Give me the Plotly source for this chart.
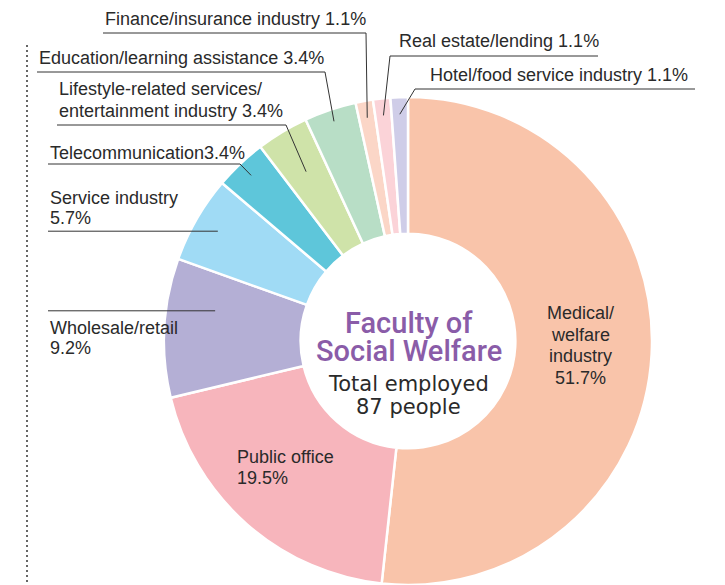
import math
import plotly.graph_objects as go

# ---------------- data ----------------
categories = [
    "Medical/welfare industry", "Public office", "Wholesale/retail",
    "Service industry", "Telecommunication",
    "Lifestyle-related services/entertainment industry",
    "Education/learning assistance", "Finance/insurance industry",
    "Real estate/lending", "Hotel/food service industry",
]
counts = [45, 17, 8, 5, 3, 3, 3, 1, 1, 1]
display_names = [
    "Medical/<br>welfare<br>industry<br>", "Public office<br>",
    "Wholesale/retail<br>", "Service industry<br>", "Telecommunication",
    "Lifestyle-related services/<br>entertainment industry ",
    "Education/learning assistance ", "Finance/insurance industry ",
    "Real estate/lending ", "Hotel/food service industry ",
]
colors = ["#F9C4AA", "#F7B5BC", "#B4AFD5", "#A0DBF5", "#5EC6DA",
          "#CFE3A9", "#B8DEC6", "#FBD6C7", "#FBD3D8", "#CFCDE8"]
center_title = ["Faculty of", "Social Welfare"]
total = sum(counts)
pcts = [f"{c / total * 100:.1f}%" for c in counts]

# ---------------- layout constants ----------------
OFF = 8                       # page body margin offset in the browser
W, H = 725 - OFF, 585 - OFF   # figure size
CX, CY, R = 408, 341, 244     # target pie centre / radius in window pixels
HOLE = 0.44
TXT = "#2a2a2a"
FONT = "Liberation Sans, Arial, sans-serif"
LSIZE = 18
LH = 21.5

def px(x):
    return (x - OFF) / W

def py(y):
    return 1 - (y - OFF) / H

fig = go.Figure(go.Pie(
    values=counts, labels=categories, sort=False, direction="clockwise",
    rotation=0, hole=HOLE, textinfo="none", hoverinfo="label+percent",
    marker=dict(colors=colors, line=dict(color="white", width=2.5)),
    domain=dict(x=[px(CX - R), px(CX + R)], y=[max(0, py(CY + R)), py(CY - R)]),
))

cum = [sum(counts[:i]) for i in range(len(counts))]

def anchor(i, rfrac, within=0.5):
    f = (cum[i] + counts[i] * within) / total
    th = 2 * math.pi * f
    return CX + rfrac * R * math.sin(th), CY - rfrac * R * math.cos(th)

shapes = []
annotations = []

def line(x0, y0, x1, y1, color="#333333", width=1):
    shapes.append(dict(type="line", xref="paper", yref="paper",
                       x0=px(x0), y0=py(y0), x1=px(x1), y1=py(y1),
                       line=dict(color=color, width=width)))

def text(t, x, y, size=LSIZE, color=TXT, xanchor="left", lh=LH, family=FONT, weight=None):
    """Multi-line text; y is the centre of the first line."""
    for k, part in enumerate(t.split("<br>")):
        f = dict(size=size, color=color, family=family)
        if weight:
            f["weight"] = weight
        annotations.append(dict(text=part, x=px(x), y=py(y + k * lh), xref="paper", yref="paper",
                                xanchor=xanchor, yanchor="middle", showarrow=False, font=f))

# outside labels: (index, text x, first-line y, underline y, underline x0, x1, leader from left?, rfrac, within)
label_specs = [
    (7, 103, 19, 33, 103, 366, False, 0.93, 0.5),
    (8, 397, 41, 56, 390, 598, True, 0.93, 0.5),
    (9, 428, 75, 89, 415, 695, True, 0.93, 0.5),
    (6, 37, 58, 72, 37, 325, False, 0.95, 0.5),
    (5, 57, 89, 125, 57, 286, False, 0.81, 0.5),
    (4, 48, 153, 164, 48, 240, False, 0.935, 0.5),
]
for i, tx, ty, uy, ux0, ux1, from_left, rf, w in label_specs:
    text(display_names[i] + pcts[i], tx, ty)
    line(ux0, uy, ux1, uy)
    ax, ay = anchor(i, rf, w)
    sx = ux0 if from_left else ux1
    line(sx, uy, ax, ay)

# horizontal leader labels ending inside slices
for i, tx, ty, rf, w in [(3, 48, 198, 0.9, 0.5), (2, 48, 328, 0.8, 0.675)]:
    ax, ay = anchor(i, rf, w)
    line(tx, ay, ax, ay)
    text(display_names[i] + pcts[i], tx, ty, lh=20)

# inside labels
text(display_names[0] + pcts[0], 580, 313, xanchor="center")
text(display_names[1] + pcts[1], 235, 457, lh=21)

# center text
for k, part in enumerate(center_title):
    text(part, 409, 323 + k * 27.5, size=29, color="#8A5CA8", xanchor="center",
         family="Roboto, Liberation Sans, Arial, sans-serif", weight=500)
text("Total employed", 408, 384, size=21, xanchor="center", family="DejaVu Sans, sans-serif")
text(f"{total} people", 408, 407, size=21, xanchor="center", family="DejaVu Sans, sans-serif")

# dotted vertical rule at left
shapes.append(dict(type="line", xref="paper", yref="paper", x0=px(27), x1=px(27),
                   y0=py(45), y1=0, line=dict(color="#666666", width=2, dash="2px,3px")))

fig.update_layout(
    width=W, height=H, margin=dict(l=0, r=0, t=0, b=0),
    paper_bgcolor="white", plot_bgcolor="white", showlegend=False,
    shapes=shapes, annotations=annotations,
)
fig.write_html("out.html")
